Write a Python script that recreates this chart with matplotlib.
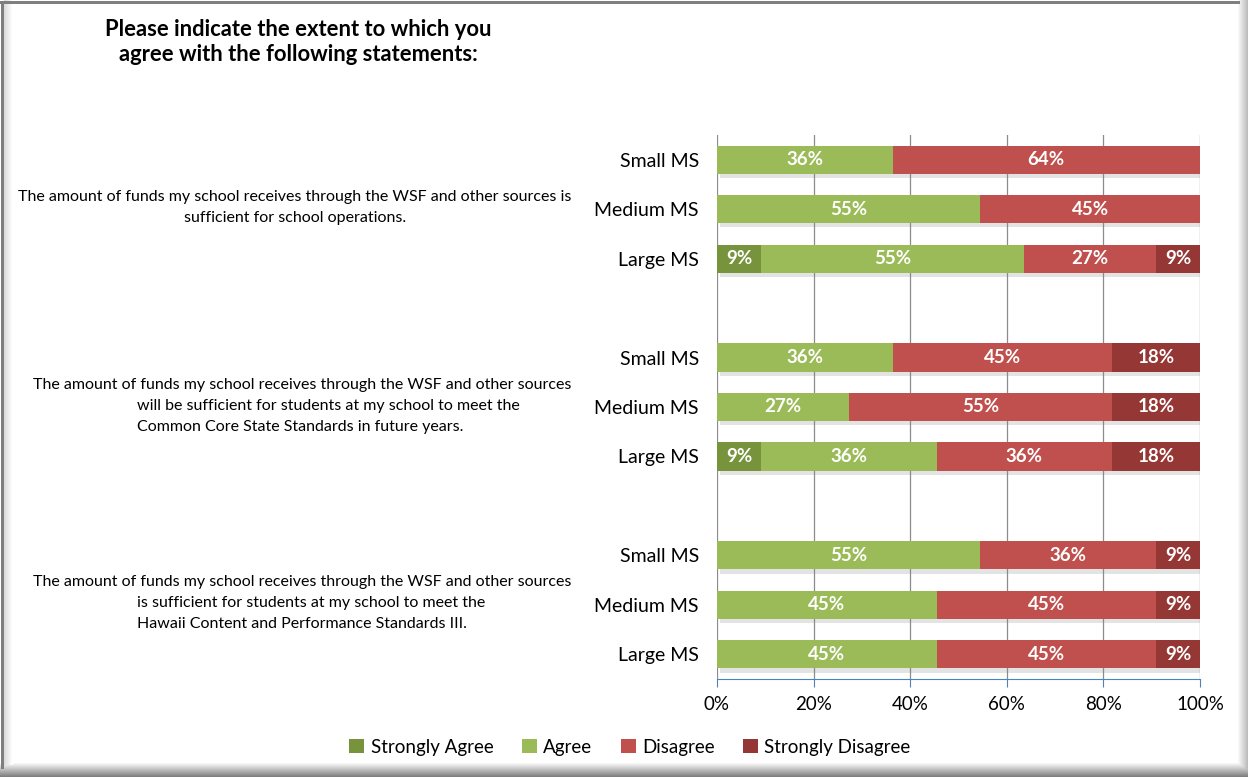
import matplotlib
matplotlib.use("Agg")
import numpy as np
from matplotlib import pyplot as plt
from matplotlib import patheffects as pe
from matplotlib.patches import Patch

plt.rcParams['font.family'] = ['Lato', 'DejaVu Sans']

# --- data ---
groups = ["Small MS", "Medium MS", "Large MS"]
series = ["Strongly Agree", "Agree", "Disagree", "Strongly Disagree"]
colors = ["#77933C", "#9BBB59", "#C0504D", "#953735"]

# percent of respondents, rows top to bottom (statement 1..3, Small/Medium/Large)
strongly_agree = [0, 0, 9.09, 0, 0, 9.09, 0, 0, 0]
agree = [36.36, 54.55, 54.55, 36.36, 27.27, 36.36, 54.55, 45.45, 45.45]
disagree = [63.64, 45.45, 27.27, 45.45, 54.55, 36.36, 36.36, 45.45, 45.45]
strongly_disagree = [0, 0, 9.09, 18.18, 18.18, 18.18, 9.09, 9.09, 9.09]

statements = [
    ["The amount of funds my school receives through the WSF and other sources is",
     "sufficient for school operations."],
    ["The amount of funds my school receives through the WSF and other sources",
     "will be sufficient for students at my school to meet the",
     "Common Core State Standards in future years."],
    ["The amount of funds my school receives through the WSF and other sources",
     "is sufficient for students at my school to meet the",
     "Hawaii Content and Performance Standards III."],
]
title = "Please indicate the extent to which you\nagree with the following statements:"

W, H = 1248, 777
fig = plt.figure(figsize=(W / 100, H / 100), dpi=100)

# chart frame: grey top/left edge, soft shadow right and bottom
frame = np.ones((H, W, 3))
for i in range(11):
    frame[:, W - 1 - i] = min(1.0, 0.74 + 0.026 * i)
for i in range(15):
    frame[H - 1 - i, :] = np.minimum(frame[H - 1 - i, :], min(1.0, 0.5 + 0.036 * i))
for i in range(9):
    frame[:H - 12, 4 + i] = min(1.0, 0.86 + 0.018 * i)
frame[1:4, :W - 8] = 0.5
frame[1:H - 8, 1:4] = 0.5
fig.figimage(frame, 0, 0, origin="upper", zorder=-5)

# plot area
ax = fig.add_axes([717 / W, 1 - 679 / H, (1200 - 717) / W, (679 - 135) / H])
ax.set_facecolor("none")
rows = []
for gi in range(3):
    for ri in range(3):
        rows.append(gi * 4 + ri)

data = [strongly_agree, agree, disagree, strongly_disagree]
shadow = [pe.SimplePatchShadow(offset=(2, -3), shadow_rgbFace="0.5", alpha=0.22), pe.Normal()]
left = [0.0] * len(rows)
for name, vals, c in zip(series, data, colors):
    bars = ax.barh(rows, vals, left=left, height=0.57, color=c, zorder=3)
    for b in bars:
        b.set_path_effects(shadow)
    for y, l, v in zip(rows, left, vals):
        if v > 0:
            ax.text(l + v / 2, y, f"{round(v)}%", ha="center", va="center",
                    color="white", fontsize=13.5, fontweight="bold", zorder=4)
    left = [l + v for l, v in zip(left, vals)]

ax.set_xlim(0, 100)
ax.set_ylim(10.5, -0.5)
ax.set_xticks([0, 20, 40, 60, 80, 100])
ax.set_xticklabels(["0%", "20%", "40%", "60%", "80%", "100%"], fontsize=13.5)
ax.set_yticks(rows)
ax.set_yticklabels(groups * 3, fontsize=14)
ax.tick_params(axis="y", length=0, pad=13)
ax.tick_params(axis="x", direction="out", length=6, color="#4F81BD", pad=6)
ax.grid(axis="x", color="#8c8c8c", lw=0.9, zorder=0)
for s in ["top", "right", "left"]:
    ax.spines[s].set_visible(False)
ax.spines["bottom"].set_color("#4F81BD")

# statement texts (first line centred, later lines of 3-line statements left-aligned)
centers_y = [208, 406, 603]
for lines, cy in zip(statements, centers_y):
    n = len(lines)
    y0 = cy - (n - 1) * 21 / 2
    for k, line in enumerate(lines):
        yy = 1 - (y0 + k * 21) / H
        if n == 2:
            fig.text(295 / W, yy, line, ha="center", va="center", fontsize=11.5)
        elif k == 0:
            fig.text(302 / W, yy, line, ha="center", va="center", fontsize=11.5)
        else:
            fig.text(137 / W, yy, line, ha="left", va="center", fontsize=11.5)

fig.text(298 / W, 1 - 42 / H, title, ha="center", va="center",
         fontsize=15.8, fontweight="bold", linespacing=1.2)

handles = [Patch(facecolor=c, label=s) for s, c in zip(series, colors)]
fig.legend(handles=handles, loc="center", bbox_to_anchor=(630 / W, 1 - 747 / H),
           ncol=4, frameon=False, fontsize=13.5, handlelength=0.8, handleheight=0.8,
           handletextpad=0.35, columnspacing=1.5)

fig.savefig("out.png", dpi=100)
